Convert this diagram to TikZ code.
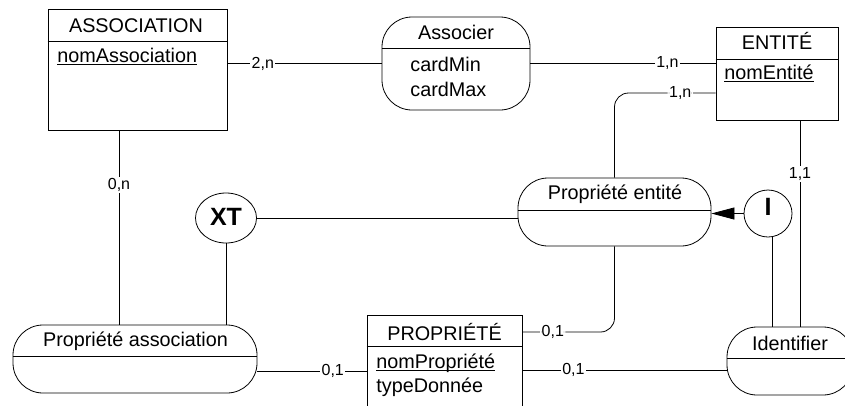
\documentclass[tikz,border=0pt]{standalone}
\usepackage{fontspec}
\setmainfont{Liberation Sans}
\usetikzlibrary{arrows.meta,shapes.geometric}
\newcommand{\myul}[1]{\setbox0\hbox{#1}\rlap{\rule[-3pt]{\wd0}{1.3pt}}\box0}
\begin{document}
\begin{tikzpicture}[x=1pt,y=-1pt, line width=0.8pt,
  txt/.style={font=\fontsize{19.8}{22}\selectfont, inner sep=0pt},
  lbl/.style={font=\fontsize{16}{18}\selectfont, fill=white, inner sep=1.5pt},
  ent/.style={draw, rectangle, inner sep=0pt},
  rel/.style={draw, rectangle, rounded corners=30pt, inner sep=0pt},
  circ/.style={draw, ellipse, inner sep=0pt},
  big/.style={font=\fontsize{25}{28}\selectfont\bfseries, inner sep=0pt}]
\useasboundingbox (0,0) rectangle (845,405);

% ---- boxes
\node[ent, minimum width=179pt, minimum height=121pt] (assoc) at (137.5,69.5) {};
\draw ([yshift=-33pt]assoc.north west) -- ([yshift=-33pt]assoc.north east);
\node[txt, anchor=base] (assoct) at (136,32) {ASSOCIATION};
\node[txt, anchor=base west] (assoca) at (57,62) {\myul{nomAssociation}};

\node[rel, minimum width=148pt, minimum height=93pt] (associer) at (456,63.5) {};
\draw ([yshift=-32pt]associer.north west) -- ([yshift=-32pt]associer.north east);
\node[txt, anchor=base] (associert) at (456,39) {Associer};
\node[txt, anchor=base west] (cmin) at (410,71) {cardMin};
\node[txt, anchor=base west] (cmax) at (410,96) {cardMax};

\node[ent, minimum width=122pt, minimum height=93pt] (entite) at (777,73.5) {};
\draw ([yshift=-33pt]entite.north west) -- ([yshift=-33pt]entite.north east);
\node[txt, anchor=base] (entitet) at (777,49) {ENTITÉ};
\node[txt, anchor=base west] (entitea) at (724,79) {\myul{nomEntité}};

\node[rel, minimum width=193pt, minimum height=68pt] (pe) at (614.5,212) {};
\draw ([yshift=-33pt]pe.north west) -- ([yshift=-33pt]pe.north east);
\node[txt, anchor=base] (pet) at (615,199) {Propriété entité};

\node[rel, minimum width=244pt, minimum height=68pt] (pa) at (135,359) {};
\draw ([yshift=-32pt]pa.north west) -- ([yshift=-32pt]pa.north east);
\node[txt, anchor=base] (pat) at (135.5,346) {Propriété association};

\node[ent, minimum width=155pt, minimum height=110pt] (prop) at (444.5,370) {};
\draw ([yshift=-32pt]prop.north west) -- ([yshift=-32pt]prop.north east);
\node[txt, anchor=base] (propt) at (444.5,340) {PROPRIÉTÉ};
\node[txt, anchor=base west] (propa) at (376,368) {\myul{nomPropriété}};
\node[txt, anchor=base west] (propb) at (376,392) {typeDonnée};

\node[rel, minimum width=126pt, minimum height=68pt] (ident) at (790,361) {};
\draw ([yshift=-32pt]ident.north west) -- ([yshift=-32pt]ident.north east);
\node[txt, anchor=base] (identt) at (790,350) {Identifier};

\node[circ, minimum width=61pt, minimum height=50pt] (xt) at (226,218) {};
\node[big] (xtt) at (226,216.5) {XT};
\node[circ, minimum width=48pt, minimum height=47pt] (iid) at (768,213.5) {};
\node[big] (iidt) at (768,207) {I};

% ---- connectors
\draw (assoc.east |- associer.west) -- node[lbl,pos=.23] (l1) {2,n} (associer.west);
\draw (associer.east) -- node[lbl,pos=.74] (l2) {1,n} (associer.east -| entite.west);

\coordinate (e2) at ([yshift=-19.5pt]entite.west);
\draw[rounded corners=14pt] (e2) -- node[lbl,pos=.35] (l3) {1,n} (e2 -| pe.north) -- (pe.north);

\coordinate (e3) at ([xshift=23pt]entite.south);
\draw (e3) -- node[lbl,pos=.26] (l4) {1,1} (e3 |- ident.north);

\coordinate (i3) at ([xshift=4pt]iid.south);
\draw (i3) -- (i3 |- ident.north);

\draw[-{Triangle[length=23pt,width=12pt]}] (iid.west) -- (iid.west -| pe.east);
\draw (xt.east) -- (xt.east -| pe.west);

\coordinate (a3) at ([xshift=-18.5pt]assoc.south);
\draw (a3) -- node[lbl,pos=.28] (l6) {0,n} (a3 |- pa.north);

\draw (xt.south) -- (xt.south |- pa.north);

\coordinate (p1) at ([yshift=-12pt]pa.east);
\draw (p1) -- node[lbl,pos=.69] (l8) {0,1} (p1 -| prop.west);

\coordinate (p2) at ([yshift=38pt]prop.east);
\draw[rounded corners=14pt] (p2) -- node[lbl,pos=.33] (l9) {0,1} (p2 -| pe.south) -- (pe.south);

\draw (prop.east) -- node[lbl,pos=.25] (l10) {0,1} (prop.east -| ident.west);
\end{tikzpicture}
\end{document}
